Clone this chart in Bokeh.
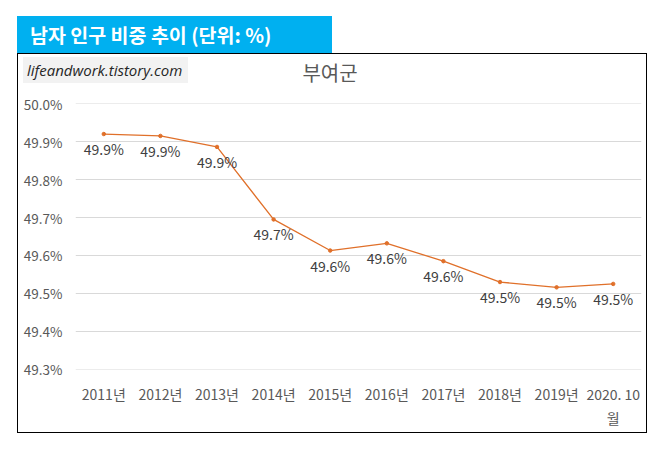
from bokeh.plotting import figure
from bokeh.models import (FixedTicker, PrintfTickFormatter, ColumnDataSource,
                          Div, Spacer)
from bokeh.layouts import column, row
from bokeh.embed import file_html
from bokeh.resources import INLINE
from bokeh.core.properties import value

# ---- data ----
categories = ["2011년", "2012년", "2013년", "2014년", "2015년",
              "2016년", "2017년", "2018년", "2019년", "2020. 10\n월"]
male_ratio = [49.920, 49.915, 49.886, 49.695, 49.613,
              49.632, 49.585, 49.530, 49.516, 49.525]
point_labels = ["49.9%", "49.9%", "49.9%", "49.7%", "49.6%",
                "49.6%", "49.6%", "49.5%", "49.5%", "49.5%"]
y_ticks = [49.3, 49.4, 49.5, 49.6, 49.7, 49.8, 49.9, 50.0]
header_text = "남자 인구 비중 추이 (단위: %)"
region_title = "부여군"
watermark = "lifeandwork.tistory.com"

FONT = "Noto Sans CJK KR"
LINE = "#E0702A"

source = ColumnDataSource(dict(cat=categories, val=male_ratio, lab=point_labels))

# ---- chart ----
p = figure(width=628, height=343, x_range=categories, y_range=(49.2995, 50.0005),
           output_backend="svg", toolbar_location=None,
           min_border_left=57, min_border_right=5,
           min_border_top=14, min_border_bottom=63, margin=0)
p.outline_line_color = None
for ax in (p.xaxis, p.yaxis):
    ax.axis_line_color = None
    ax.major_tick_line_color = None
    ax.minor_tick_line_color = None
    ax.major_tick_out = 0
    ax.major_tick_in = 0
    ax.major_label_text_color = "#595959"
    ax.major_label_text_font = FONT
p.xaxis.major_label_text_font_size = "14px"
p.yaxis.major_label_text_font_size = "13.5px"
p.xaxis.major_label_standoff = 14
p.yaxis.major_label_standoff = 13
p.yaxis.ticker = FixedTicker(ticks=y_ticks)
p.yaxis.formatter = PrintfTickFormatter(format="%.1f%%")
p.xgrid.visible = False
p.ygrid.ticker = FixedTicker(ticks=y_ticks)
p.ygrid.grid_line_color = "#D9D9D9"

p.line(x="cat", y="val", source=source, line_color=LINE, line_width=1.3)
p.scatter(x="cat", y="val", source=source, size=3.5, color=LINE)
p.text(x="cat", y="val", text="lab", source=source, y_offset=15,
       text_align="center", text_baseline="middle", text_font_size="14px",
       text_color="#404040", text_font=value(FONT))

# ---- decorations ----
header = Div(width=315, height=37, margin=0, text=(
    '<div style="width:315px;height:37px;box-sizing:border-box;background:#00B0F0;'
    'color:white;font-weight:bold;font-size:19.5px;line-height:37px;padding-left:13px;'
    f'font-family:\'{FONT}\';white-space:nowrap;">{header_text}</div>'))

top_band = Div(width=628, height=35, margin=0, text=(
    '<div style="position:relative;width:628px;height:35px;">'
    '<div style="position:absolute;left:5px;top:3px;width:165px;height:26px;'
    'background:#F2F2F2;"></div>'
    '<div style="position:absolute;left:9px;top:3px;height:26px;line-height:26px;'
    'font-family:\'Open Sans\';font-style:italic;font-size:15px;color:#262626;'
    f'white-space:nowrap;">{watermark}</div>'
    '<div style="position:absolute;left:212px;width:200px;top:5px;height:28px;'
    'line-height:28px;text-align:center;font-size:20px;color:#595959;'
    f'font-family:\'{FONT}\';">{region_title}</div>'
    '</div>'))

body = column(top_band, p, margin=0, spacing=0,
              styles={"border": "1px solid black"})

layout = row(Spacer(width=17, height=1, margin=0),
             column(Spacer(width=1, height=16, margin=0), header, body,
                    margin=0, spacing=0),
             margin=0, spacing=0)

open("out.html", "w").write(file_html(layout, INLINE))
